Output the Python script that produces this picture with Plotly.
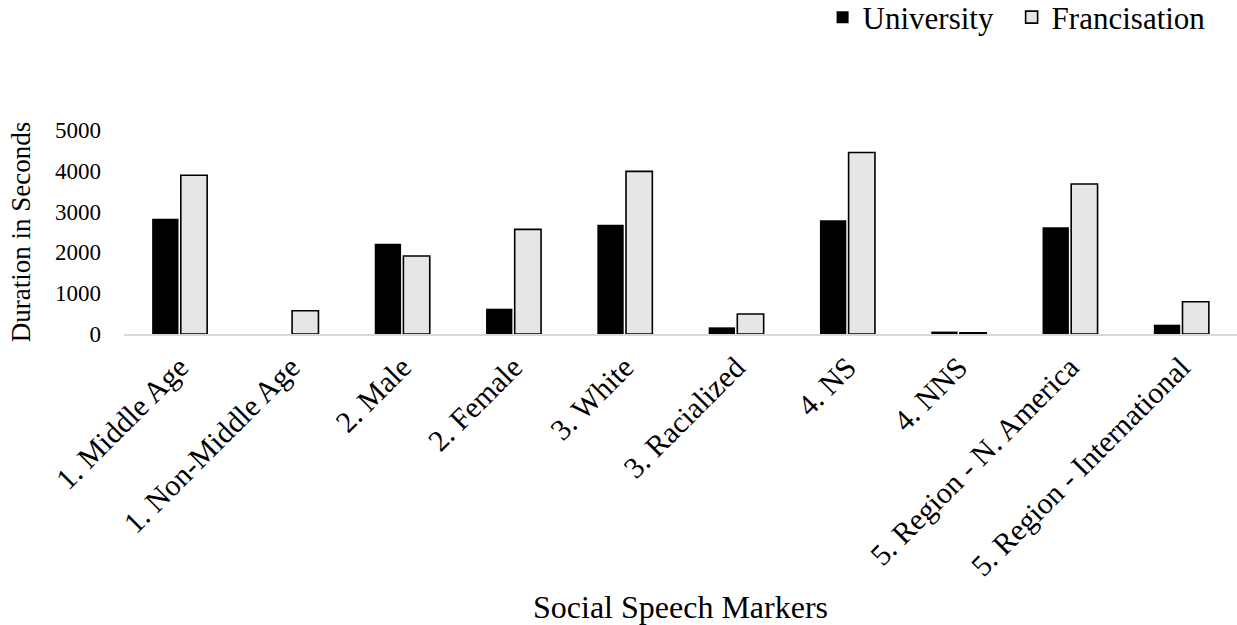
import plotly.graph_objects as go

# Categories and durations (seconds)
categories = [
    "1. Middle Age", "1. Non-Middle Age", "2. Male", "2. Female", "3. White",
    "3. Racialized", "4. NS", "4. NNS", "5. Region - N. America",
    "5. Region - International",
]
university = [2825, 0, 2210, 620, 2680, 163, 2785, 60, 2615, 228]
francisation = [3890, 570, 1910, 2565, 3985, 490, 4450, 30, 3675, 792]
y_ticks = [0, 1000, 2000, 3000, 4000, 5000]

FONT = "Liberation Serif, Times New Roman, serif"

fig = go.Figure()
fig.add_trace(go.Bar(
    name="University", x=categories, y=university, legend="legend",
    marker=dict(color="#000000", line=dict(color="#000000", width=0)),
))
fig.add_trace(go.Bar(
    name="Francisation", x=categories, y=francisation, legend="legend2",
    marker=dict(color="#e6e6e6", line=dict(color="#000000", width=1.6)),
))

legend_common = dict(
    orientation="h", xref="container", yref="container",
    xanchor="left", y=0.972, yanchor="middle",
    font=dict(family=FONT, size=31, color="#000000"),
    itemclick=False,
)

fig.update_layout(
    width=1237, height=625,
    margin=dict(l=124, r=0, t=130, b=291),
    paper_bgcolor="white", plot_bgcolor="white",
    font=dict(family=FONT, color="#000000"),
    barmode="group", bargap=0.485, bargroupgap=0.08,
    showlegend=True,
    legend=dict(x=0.665, **legend_common),
    legend2=dict(x=0.8178, **legend_common),
    xaxis=dict(
        automargin=False,
        tickangle=-45, tickfont=dict(family=FONT, size=30),
        showline=True, linecolor="#d9d9d9", linewidth=1.5,
        showgrid=False, ticks="", ticklabelstandoff=2,
        title=dict(text="Social Speech Markers",
                   font=dict(family=FONT, size=32), standoff=24),
    ),
    yaxis=dict(
        automargin=False,
        range=[0, 5000], tickvals=y_ticks,
        tickfont=dict(family=FONT, size=23),
        showgrid=False, zeroline=False, showline=False, ticks="",
        ticklabelstandoff=22,
        title=dict(text="Duration in Seconds",
                   font=dict(family=FONT, size=27), standoff=16),
    ),
)

fig.write_html("out.html")
